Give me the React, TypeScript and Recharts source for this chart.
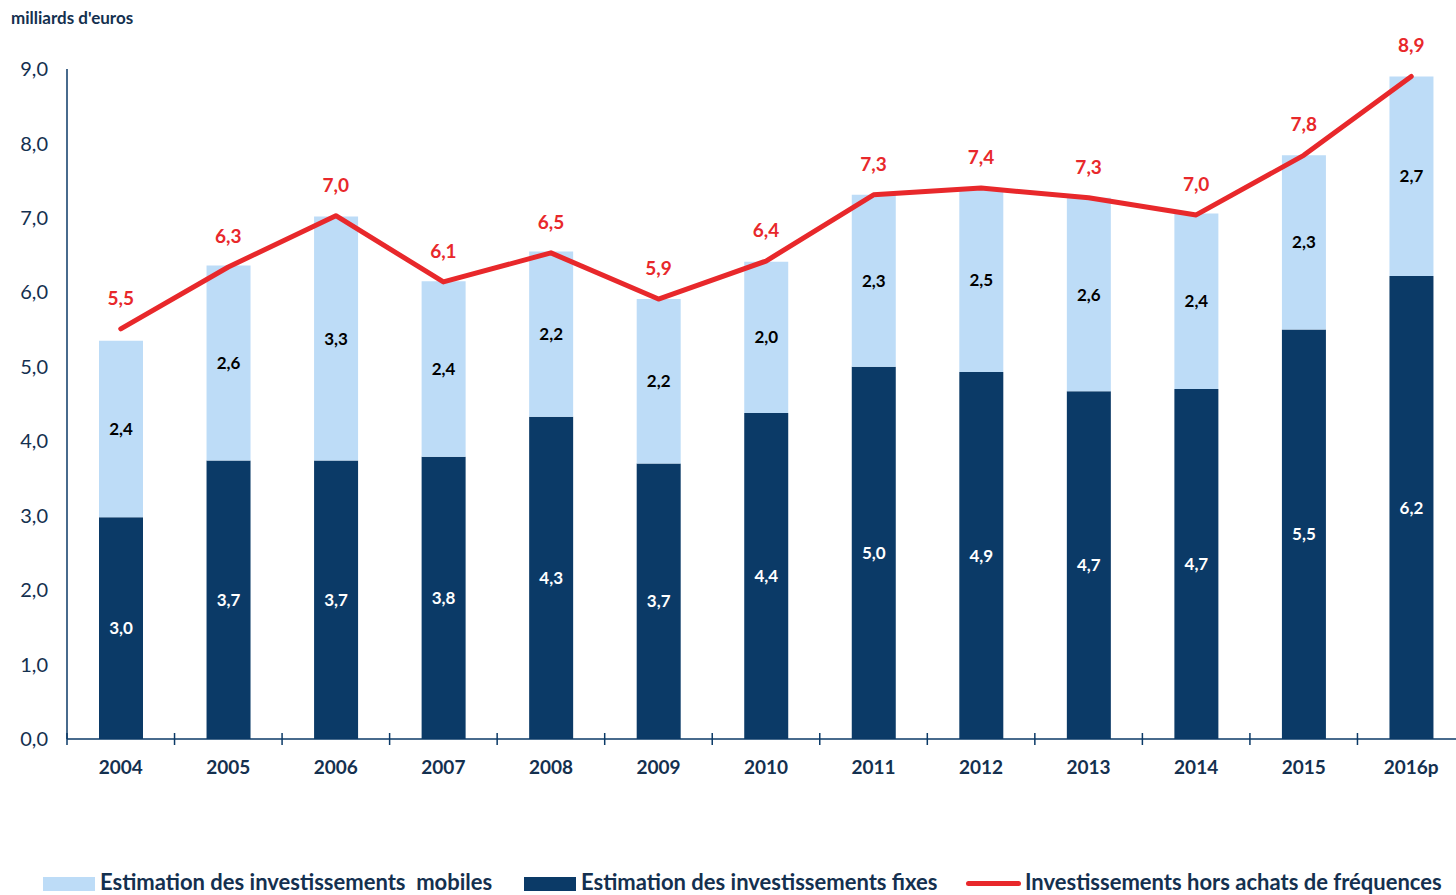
import { ComposedChart, Bar, Line, XAxis, YAxis, LabelList } from "recharts";

// annees
const years = ["2004", "2005", "2006", "2007", "2008", "2009", "2010", "2011", "2012", "2013", "2014", "2015", "2016p"];
// milliards d'euros
const fixes = [2.98, 3.74, 3.74, 3.79, 4.33, 3.7, 4.38, 5.0, 4.93, 4.67, 4.7, 5.5, 6.22];
const mobiles = [2.37, 2.62, 3.28, 2.36, 2.22, 2.21, 2.03, 2.31, 2.47, 2.6, 2.36, 2.34, 2.68];
const horsFrequences = [5.51, 6.34, 7.03, 6.14, 6.53, 5.91, 6.42, 7.31, 7.4, 7.27, 7.04, 7.84, 8.9];
const yTicks = [0, 1, 2, 3, 4, 5, 6, 7, 8, 9];

const data = years.map((y, i) => ({
    annee: y,
    fixes: fixes[i],
    mobiles: mobiles[i],
    total: horsFrequences[i],
}));

const NAVY = "#0b3a67";
const LIGHT = "#bddcf7";
const RED = "#e8282b";
const TEXT = "#14304f";
const FONT = "Lato, 'Open Sans', sans-serif";

const fr = (v: any) => {
    const n = Array.isArray(v) ? v[v.length - 1] : Number(v);
    return n.toFixed(1).replace(".", ",");
};

const XTick = (props: any) => {
    const { x, y, payload } = props;
    const off = payload?.offset ?? 53.8;
    return (
        <g>
            <line x1={x - off} x2={x - off} y1={y - 6} y2={y + 6} stroke={NAVY} strokeWidth={1.5} />
            <text x={x} y={y + 35} textAnchor="middle" fontSize={19} fontWeight={700} fill={TEXT} fontFamily={FONT}>
                {payload.value}
            </text>
        </g>
    );
};

const legendText = { position: "absolute" as const, top: 868, fontSize: 22, fontWeight: 700, color: TEXT, whiteSpace: "pre" as const };

export default function App() {
    return (
        <div
            style={{
                position: "absolute",
                left: 0,
                top: 0,
                width: 1456,
                height: 895,
                overflow: "hidden",
                background: "#fff",
                fontFamily: FONT,
            }}
        >
            <div style={{ position: "absolute", left: 11, top: 7, fontSize: 17, fontWeight: 700, color: TEXT }}>
                milliards d'euros
            </div>

            <ComposedChart
                width={1480}
                height={895}
                data={data}
                margin={{ top: 69, right: 15, left: 0, bottom: 116 }}
            >
                <XAxis
                    dataKey="annee"
                    height={40}
                    tickLine={false}
                    tickSize={0}
                    tickMargin={0}
                    axisLine={{ stroke: NAVY, strokeWidth: 1.5 }}
                    tick={<XTick />}
                    interval={0}
                />
                <YAxis
                    width={67}
                    domain={[0, 9]}
                    ticks={yTicks}
                    tickLine={false}
                    tickMargin={13}
                    axisLine={{ stroke: NAVY, strokeWidth: 1.5 }}
                    tickFormatter={(v: number) => v.toFixed(1).replace(".", ",")}
                    tick={{ fontSize: 20, fill: TEXT, fontFamily: FONT }}
                />
                <Bar dataKey="fixes" stackId="a" fill={NAVY} barSize={44} isAnimationActive={false}>
                    <LabelList
                        dataKey="fixes"
                        position="center"
                        formatter={fr}
                        fill="#fff"
                        fontSize={17}
                        fontWeight={700}
                        fontFamily={FONT}
                    />
                </Bar>
                <Bar dataKey="mobiles" stackId="a" fill={LIGHT} barSize={44} isAnimationActive={false}>
                    <LabelList
                        dataKey="mobiles"
                        position="center"
                        formatter={fr}
                        fill="#000"
                        fontSize={17}
                        fontWeight={700}
                        fontFamily={FONT}
                    />
                </Bar>
                <Line
                    dataKey="total"
                    type="linear"
                    stroke={RED}
                    strokeWidth={5}
                    strokeLinecap="round"
                    strokeLinejoin="round"
                    dot={false}
                    activeDot={false}
                    isAnimationActive={false}
                >
                    <LabelList
                        dataKey="total"
                        position="top"
                        offset={24}
                        formatter={fr}
                        fill={RED}
                        fontSize={19}
                        fontWeight={700}
                        fontFamily={FONT}
                    />
                </Line>
            </ComposedChart>

            {/* legende */}
            <div style={{ position: "absolute", left: 43, top: 877, width: 52, height: 14, background: LIGHT }} />
            <div style={{ ...legendText, left: 100 }}>Estimation des investissements  mobiles</div>
            <div style={{ position: "absolute", left: 524, top: 877, width: 52, height: 14, background: NAVY }} />
            <div style={{ ...legendText, left: 581 }}>Estimation des investissements fixes</div>
            <div
                style={{
                    position: "absolute",
                    left: 966,
                    top: 881,
                    width: 55,
                    height: 5,
                    borderRadius: 3,
                    background: RED,
                }}
            />
            <div style={{ ...legendText, left: 1025 }}>Investissements hors achats de fréquences</div>
        </div>
    );
}
